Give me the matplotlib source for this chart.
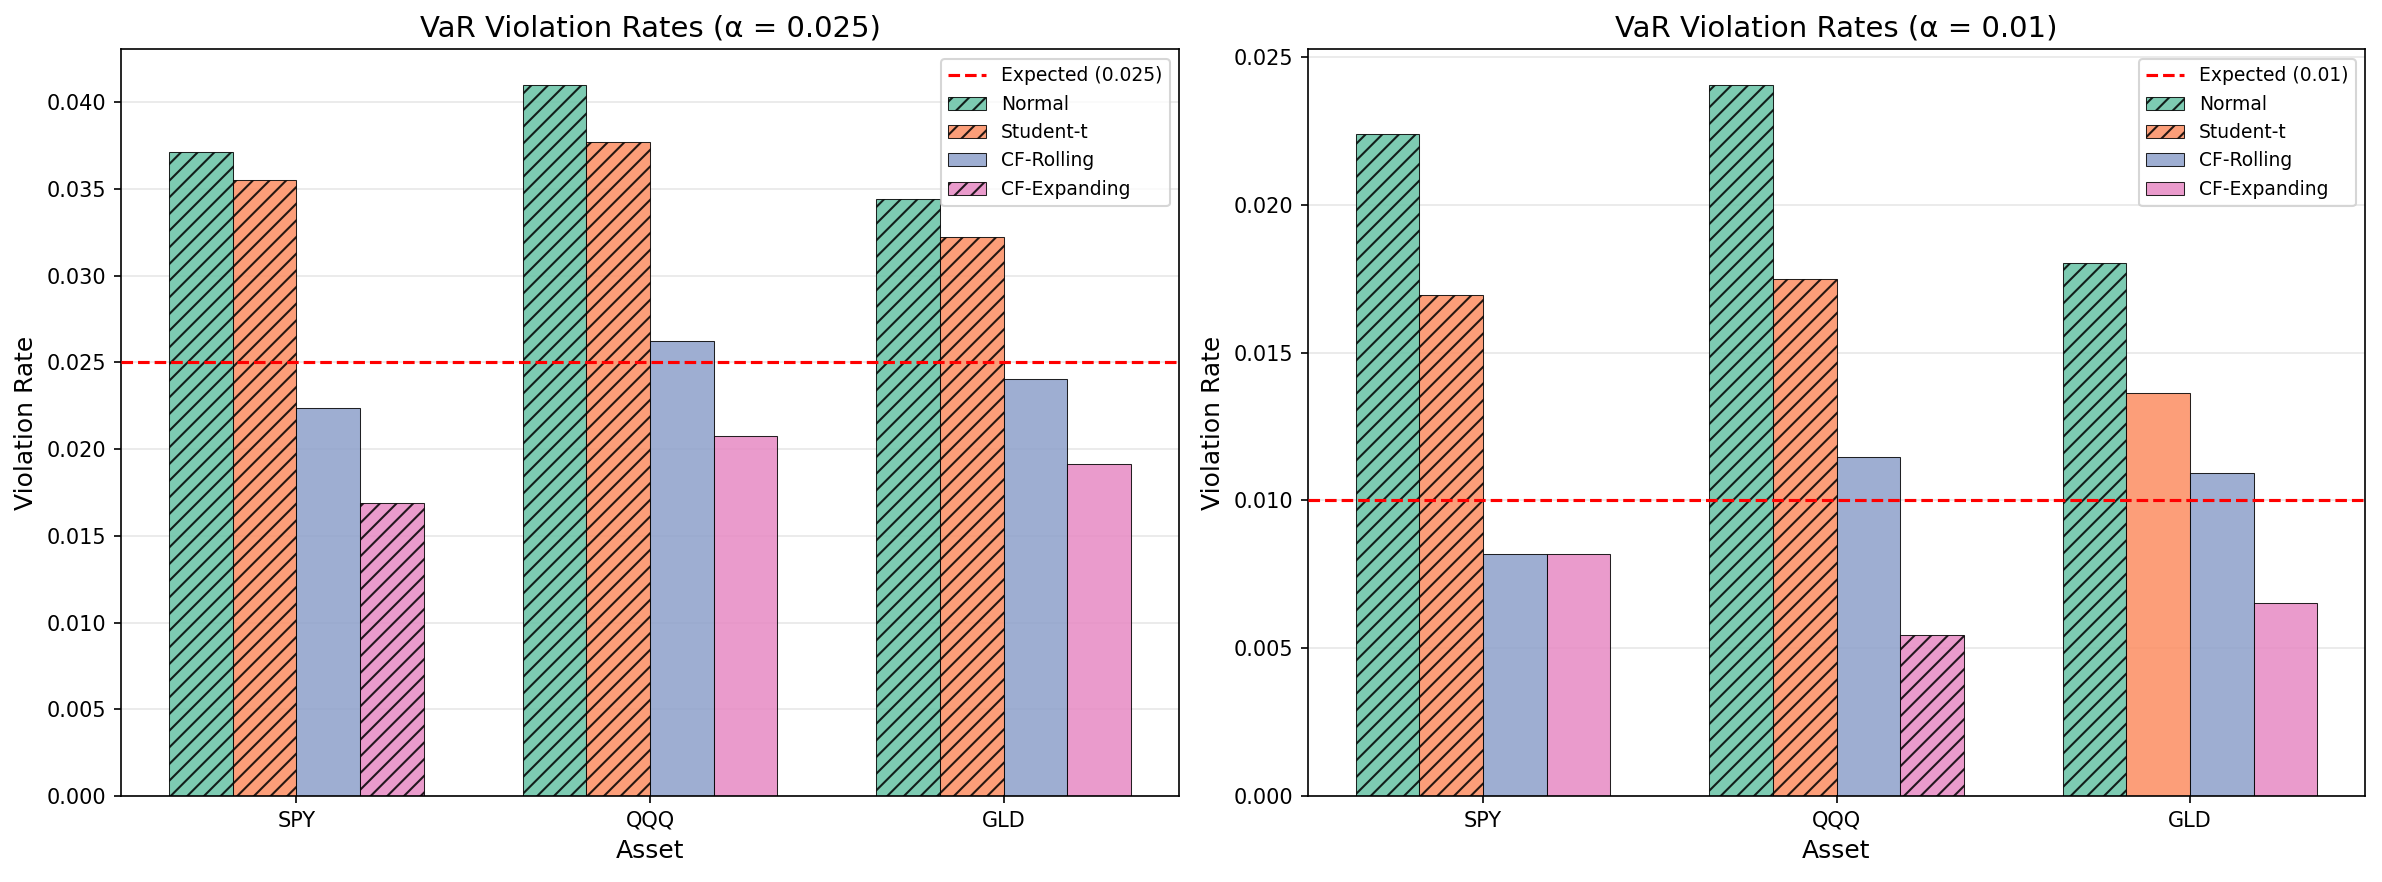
import matplotlib
matplotlib.use("Agg")
import matplotlib.pyplot as plt
import numpy as np

# Violation rates
assets = ["SPY", "QQQ", "GLD"]
models = ["Normal", "Student-t", "CF-Rolling", "CF-Expanding"]
colors = ["#66c2a5", "#fc8d62", "#8da0cb", "#e78ac3"]

alpha_levels = [0.025, 0.01]

rates_025 = {
    "Normal": [0.03715, 0.0410, 0.03442],
    "Student-t": [0.03553, 0.03773, 0.03225],
    "CF-Rolling": [0.0224, 0.02626, 0.02405],
    "CF-Expanding": [0.01692, 0.02078, 0.01912],
}
rates_010 = {
    "Normal": [0.0224, 0.02405, 0.01804],
    "Student-t": [0.01696, 0.01749, 0.01363],
    "CF-Rolling": [0.00819, 0.01148, 0.01093],
    "CF-Expanding": [0.00819, 0.00546, 0.00654],
}

# which bars are hatched (rejected by the coverage test)
rejected_025 = {
    "Normal": [True, True, True],
    "Student-t": [True, True, True],
    "CF-Rolling": [False, False, False],
    "CF-Expanding": [True, False, False],
}
rejected_010 = {
    "Normal": [True, True, True],
    "Student-t": [True, True, False],
    "CF-Rolling": [False, False, False],
    "CF-Expanding": [False, True, False],
}

fig, axes = plt.subplots(1, 2, figsize=(15.88, 5.88), dpi=150)
axes[0].set_position([0.0508, 0.0975, 0.4442, 0.8465])
axes[1].set_position([0.549, 0.0975, 0.444, 0.8465])

x = np.arange(len(assets))
width = 0.18

for ax, a, rates, rejected in zip(axes, alpha_levels,
                                  [rates_025, rates_010],
                                  [rejected_025, rejected_010]):
    ax.axhline(a, color="red", linestyle="--", linewidth=1.5,
               label=f"Expected ({a})", zorder=3)
    for i, (m, c) in enumerate(zip(models, colors)):
        bars = ax.bar(x + (i - 1.5) * width, rates[m], width, color=c,
                      alpha=0.85, edgecolor="black", linewidth=0.5,
                      label=m, zorder=2)
        for b, rej in zip(bars, rejected[m]):
            if rej:
                b.set_hatch("///")
    ax.set_xticks(x)
    ax.set_xticklabels(assets, fontsize=10)
    ax.set_xlabel("Asset", fontsize=12)
    ax.set_ylabel("Violation Rate", fontsize=12)
    ax.set_title(f"VaR Violation Rates (α = {a})", fontsize=14)
    ax.grid(axis="y", alpha=0.3, zorder=0)
    ax.set_axisbelow(True)
    ax.legend(fontsize=9, loc="upper right")

fig.savefig("out.png", dpi=150)
